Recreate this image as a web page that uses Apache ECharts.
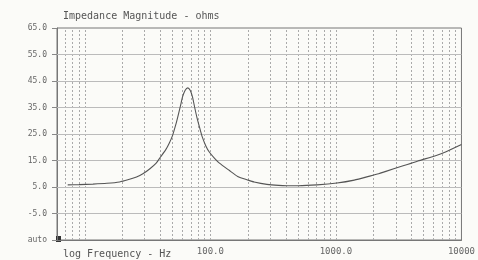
<!DOCTYPE html>
<html>
<head>
	<meta charset="utf-8">
	<title>Impedance</title>
	<style type="text/css">
		body{
			margin: 0px;
			background: #fbfbf8;
		}
		.chart{
			width: 478px;
			height: 260px;
		}
	</style>
	<script type="text/javascript" src="https://cdn.jsdelivr.net/npm/echarts@6/dist/echarts.min.js"></script>
</head>
<body>
	<div id="chart" class="chart"></div>
	<script type="text/javascript">
		// frequency (Hz) and impedance magnitude (ohms)
		var freqs = [7.3, 9, 11.6, 15, 18.9, 22, 25.8, 29, 32.8, 37, 40, 44, 47, 50, 53, 55, 58, 60, 63, 66,
			69, 72, 75, 78, 82, 86, 92, 98, 108, 118, 141, 165, 200, 223, 282, 350, 408, 500, 707,
			1020, 1400, 1860, 2190, 2500, 3430, 4010, 4500, 6300, 7460, 10000];
		var ohms = [5.8, 5.9, 6.1, 6.4, 6.9, 7.7, 8.8, 10.0, 11.8, 14.0, 16.3, 19.0, 21.5, 24.5, 28.5, 31.5, 36, 39, 41.5, 42.4,
			41.5, 39, 35, 31.4, 27.5, 24, 20.5, 18.2, 15.8, 14, 11.3, 9, 7.6, 6.9, 6.0, 5.6, 5.5, 5.5, 5.8,
			6.5, 7.6, 9.1, 10.0, 10.9, 13.0, 14.0, 14.8, 16.9, 18.2, 21];
		var yTicks = [-15, -5, 5, 15, 25, 35, 45, 55, 65];
		var xLabels = {100: '100.0', 1000: '1000.0', 10000: '10000'};
		var decades = [1, 10, 100, 1000];
		var mults = [1, 2, 3, 4, 5, 6, 7, 8, 9];

		window.onload = function(){
			var chart = echarts.init(document.getElementById('chart'));
			var font = 'DejaVu Sans Mono';

			var vLines = [];
			decades.forEach(function(d){
				mults.forEach(function(m){
					var f = d * m;
					if(f > 6 && f < 10000) vLines.push({xAxis: f});
				});
			});
			var hLines = yTicks.filter(function(v){
				return v > -15 && v < 65;
			}).map(function(v){
				return {yAxis: v};
			});

			chart.setOption({
				backgroundColor: '#fbfbf8',
				animation: false,
				title: [{
					text: 'Impedance Magnitude - ohms',
					left: 58,
					top: 6,
					textStyle: {fontFamily: font, fontSize: 10, fontWeight: 'normal', color: '#555'}
				}, {
					text: 'log Frequency - Hz',
					left: 58,
					top: 244,
					textStyle: {fontFamily: font, fontSize: 10, fontWeight: 'normal', color: '#555'}
				}],
				grid: {
					left: 57,
					right: 14,
					top: 28,
					bottom: 20,
					show: true,
					borderColor: '#777',
					borderWidth: 1
				},
				xAxis: {
					type: 'log',
					min: 6,
					max: 10000,
					axisLine: {onZero: false, lineStyle: {color: '#777'}},
					axisTick: {show: false},
					splitLine: {show: false},
					axisLabel: {
						fontFamily: font,
						fontSize: 9,
						color: '#666',
						margin: 7,
						formatter: function(v){
							var k = Math.round(v);
							return xLabels[k] || '';
						}
					}
				},
				yAxis: {
					type: 'value',
					min: -15,
					max: 65,
					axisLine: {show: true, lineStyle: {color: '#777'}},
					axisTick: {show: true, length: 5, customValues: yTicks, lineStyle: {color: '#888'}},
					splitLine: {show: false},
					axisLabel: {
						fontFamily: font,
						fontSize: 8,
						color: '#666',
						margin: 10,
						customValues: yTicks,
						formatter: function(v){
							return v === -15 ? 'auto' : v.toFixed(1);
						}
					}
				},
				graphic: [{
					type: 'rect',
					left: 56,
					top: 236,
					shape: {width: 5, height: 6},
					style: {fill: '#333'}
				}],
				series: [{
					type: 'line',
					data: freqs.map(function(f, i){
						return [f, ohms[i]];
					}),
					showSymbol: false,
					smooth: 0.2,
					lineStyle: {color: '#555', width: 1.1},
					z: 5,
					markLine: {
						silent: true,
						symbol: 'none',
						label: {show: false},
						animation: false,
						data: vLines.map(function(l){
							return Object.assign(l, {lineStyle: {color: '#aaa', width: 1, type: [2, 2]}});
						}).concat(hLines.map(function(l){
							return Object.assign(l, {lineStyle: {color: '#bbb', width: 1, type: 'solid'}});
						}))
					}
				}]
			});
		}
	</script>
</body>
</html>
